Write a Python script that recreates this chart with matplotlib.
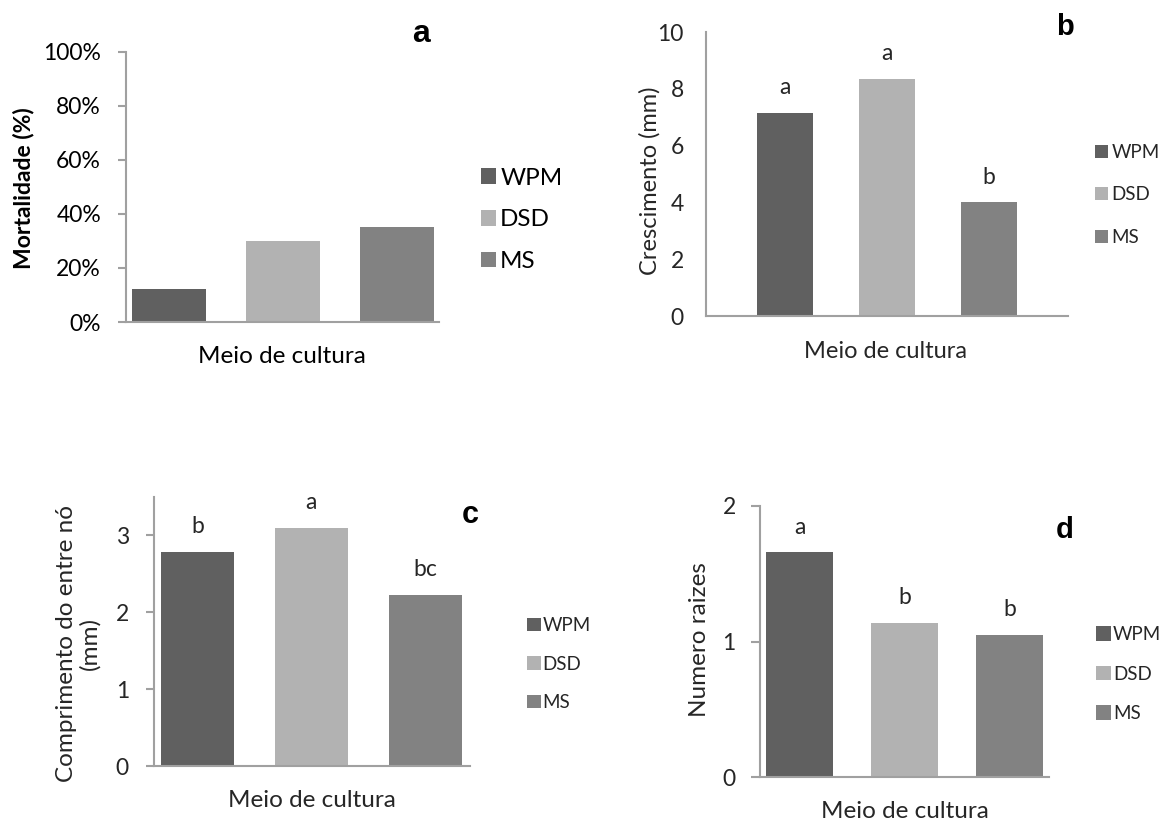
import matplotlib
matplotlib.use("Agg")
import matplotlib.pyplot as plt
from matplotlib.ticker import PercentFormatter

# meios de cultura e valores medios de cada resposta
meios = ["WPM", "DSD", "MS"]
cores = ["#606060", "#b2b2b2", "#828282"]

mortalidade = [0.122, 0.30, 0.352]
crescimento = [7.15, 8.35, 4.0]
entre_no = [2.79, 3.10, 2.23]
raizes = [1.66, 1.14, 1.05]

# letras do teste de medias
letras_b = ["a", "a", "b"]
letras_c = ["b", "a", "bc"]
letras_d = ["a", "b", "b"]

W, H = 1160, 821
plt.rcParams["font.family"] = ["Lato", "DejaVu Sans"]
fig = plt.figure(figsize=(W / 100, H / 100), dpi=100)

EIXO = "#a0a0a0"
TXT = "#262626"


def area(x0, y0, x1, y1):
    # eixos posicionados em pixels da figura
    return fig.add_axes([x0 / W, 1 - y1 / H, (x1 - x0) / W, (y1 - y0) / H])


def texto(x, y, s, **kw):
    fig.text(x / W, 1 - y / H, s, **kw)


def painel(ax, valores, largura, xlim, ylim, yticks, tick_len, pad, cor_txt):
    for i in range(len(meios)):
        ax.bar(i, valores[i], width=largura, color=cores[i], label=meios[i])
    ax.set_xlim(xlim)
    ax.set_ylim(ylim)
    ax.set_yticks(yticks)
    ax.set_xticks([])
    ax.spines["top"].set_visible(False)
    ax.spines["right"].set_visible(False)
    for s in ["left", "bottom"]:
        ax.spines[s].set_color(EIXO)
        ax.spines[s].set_linewidth(1.5)
    ax.tick_params(axis="y", length=tick_len, width=1.5, color=EIXO,
                   pad=pad, labelsize=16.5, labelcolor=cor_txt)


def letras(ax, valores, rotulos):
    for i in range(len(valores)):
        ax.annotate(rotulos[i], (i, valores[i]), xytext=(0, 18),
                    textcoords="offset points", ha="center", va="center",
                    fontsize=16.5, color=TXT)


def legenda(ax, x, y, fs, lado, espaco, textpad, cor_txt):
    ax.legend(loc="center left", bbox_to_anchor=(x / W, 1 - y / H),
              bbox_transform=fig.transFigure, frameon=False, fontsize=fs,
              handlelength=lado, handleheight=lado, handletextpad=textpad,
              labelspacing=espaco, borderpad=0, borderaxespad=0,
              labelcolor=cor_txt)


# a - mortalidade
ax_a = area(126, 52, 439, 322)
painel(ax_a, mortalidade, 0.65, (-0.377, 2.368), (0, 1),
       [0, 0.2, 0.4, 0.6, 0.8, 1.0], 6, 12, "black")
ax_a.yaxis.set_major_formatter(PercentFormatter(1.0, decimals=0))
legenda(ax_a, 481, 220, 17.5, 0.62, 0.85, 0.17, "black")
texto(24, 188, "Mortalidade (%)", rotation=90, ha="center", va="center",
      fontsize=16.5, fontweight="bold")
texto(282, 363, "Meio de cultura", ha="center", va="baseline", fontsize=17.5)
texto(421, 42, "a", ha="center", va="baseline", fontsize=23,
      fontweight="bold", family="Liberation Sans")

# b - crescimento
ax_b = area(706, 32, 1068, 316)
painel(ax_b, crescimento, 0.55, (-0.775, 2.775), (0, 10),
       [0, 2, 4, 6, 8, 10], 0, 16, TXT)
letras(ax_b, crescimento, letras_b)
legenda(ax_b, 1095, 195, 13.5, 0.68, 1.35, 0.2, TXT)
texto(650, 181, "Crescimento (mm)", rotation=90, ha="center", va="center",
      fontsize=17, color=TXT)
texto(886, 358, "Meio de cultura", ha="center", va="baseline",
      fontsize=17, color=TXT)
texto(1065, 35, "b", ha="center", va="baseline", fontsize=21,
      fontweight="bold", family="Liberation Sans")

# c - comprimento do entre no
ax_c = area(154, 497, 470, 766)
painel(ax_c, entre_no, 0.64, (-0.38, 2.39), (0, 3.5),
       [0, 1, 2, 3], 6, 12, TXT)
letras(ax_c, entre_no, letras_c)
legenda(ax_c, 527, 664, 13.5, 0.72, 1.15, 0.12, TXT)
texto(78, 643, "Comprimento do entre nó\n(mm)", rotation=90, ha="center",
      va="center", multialignment="center", fontsize=17.5, color=TXT,
      linespacing=1.1)
texto(312, 807, "Meio de cultura", ha="center", va="baseline",
      fontsize=17.5, color=TXT)
texto(470, 523, "c", ha="center", va="baseline", fontsize=22,
      fontweight="bold", family="Liberation Sans")

# d - numero de raizes
ax_d = area(760, 506, 1049, 777)
painel(ax_d, raizes, 0.64, (-0.376, 2.376), (0, 2),
       [0, 1, 2], 6.5, 11, TXT)
letras(ax_d, raizes, letras_d)
legenda(ax_d, 1096, 674, 13.5, 0.78, 1.2, 0.12, TXT)
texto(700, 640, "Numero raizes", rotation=90, ha="center", va="center",
      fontsize=17.5, color=TXT)
texto(905, 818, "Meio de cultura", ha="center", va="baseline",
      fontsize=17.5, color=TXT)
texto(1065, 538, "d", ha="center", va="baseline", fontsize=21,
      fontweight="bold", family="Liberation Sans")

fig.savefig("out.png", dpi=100)
